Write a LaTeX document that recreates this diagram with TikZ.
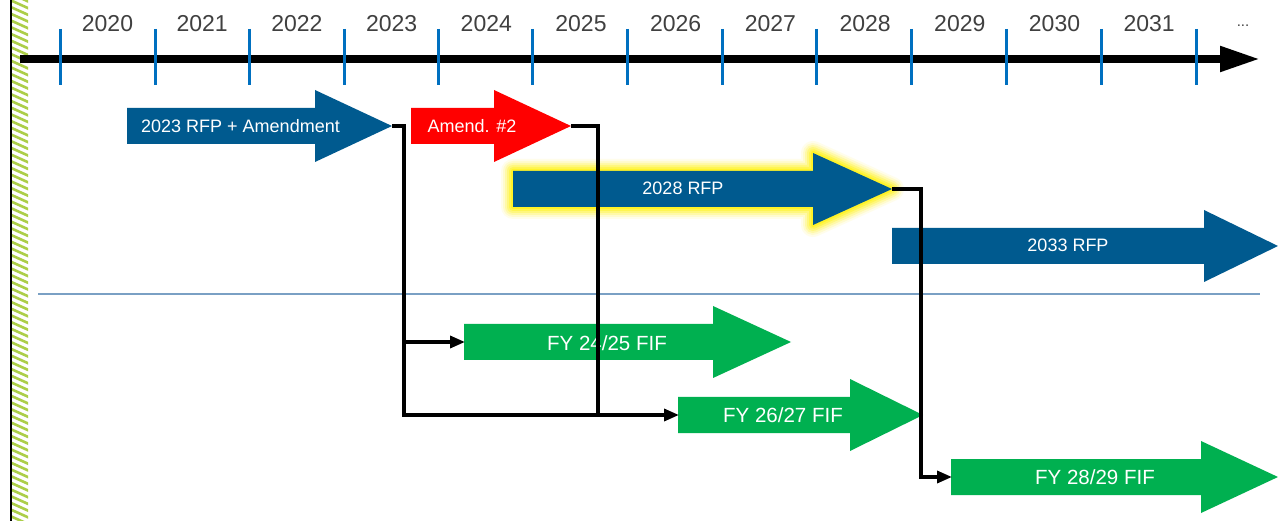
\documentclass[tikz,border=0pt]{standalone}
\usepackage{fontspec}
\setmainfont{Liberation Sans}
\usetikzlibrary{arrows.meta}
\definecolor{rfpblue}{RGB}{0,90,143}
\definecolor{amdred}{RGB}{255,0,0}
\definecolor{fifgreen}{RGB}{0,176,80}
\definecolor{tickblue}{RGB}{0,112,192}
\definecolor{yeargray}{RGB}{64,64,64}
\definecolor{sepblue}{RGB}{122,160,196}
\definecolor{hatchgreen}{RGB}{172,206,72}
\newcommand\blockarrow[8]{% name, color, xleft, xheadbase, xtip, ycenter, halfbody, halfhead
  \fill[#2] (#3,{#6-#7}) -- (#4,{#6-#7}) -- (#4,{#6-#8}) -- (#5,#6) -- (#4,{#6+#8}) -- (#4,{#6+#7}) -- (#3,{#6+#7}) -- cycle;
  \coordinate (#1-tip) at (#5,#6);
  \coordinate (#1-in) at (#3,#6);
}
\tikzset{
  year/.style={text=yeargray, font=\fontsize{23}{26}\selectfont, inner sep=0pt},
  toplabel/.style={text=white, font=\fontsize{18}{20}\selectfont, inner sep=0pt},
  fiflabel/.style={text=white, font=\fontsize{20.5}{23}\selectfont, inner sep=0pt},
  tick/.style={draw=tickblue, line width=3pt},
  conn/.style={draw=black, line width=3.4pt, line join=miter},
  connarrow/.style={conn, -{Triangle[length=15pt,width=12pt]}, shorten >=-1pt},
}
\begin{document}
\begin{tikzpicture}[x=1pt,y=-1pt]
\useasboundingbox (0,0) rectangle (1278,521);
\fill[white] (0,0) rectangle (1278,521);
% left border with hatching
\begin{scope}
  \clip (12,0) rectangle (28,521);
  \foreach \k in {-4,...,80} {
    \draw[hatchgreen, line width=2.6pt] (10,{\k*6.7}) -- (30,{\k*6.7+9});
  }
\end{scope}
\draw[black, line width=2.2pt] (11,0) -- (11,521);
% timeline
\coordinate (tl-start) at (20,59);
\coordinate (tl-end) at (1260,59);
\draw[line width=8pt, -{Triangle[length=40pt,width=24pt]}] (tl-start) -- (tl-end);
\foreach \x in {60,155,249,344,438,532,627,722,816,911,1006,1101,1196} {
  \draw[tick] (\x,29) -- (\x,85);
}
\foreach \y [count=\i from 0] in {2020,2021,2022,2023,2024,2025,2026,2027,2028,2029,2030,2031} {
  \node[year] (y\y) at ({107.5+94.7*\i},24) {\y};
}
\node[text=yeargray, font=\fontsize{15}{16}\selectfont, inner sep=0pt] (dots) at (1243,26) {...};
% separator
\draw[sepblue, line width=1.5pt] (38,294) -- (1260,294);
% glow for 2028 RFP
\foreach \w/\o in {24/0.08,20/0.12,16/0.18,12/0.25,8/0.35,4/0.5} {
  \draw[yellow, line width=\w pt, opacity=\o, line join=round]
    (513,171) -- (813,171) -- (813,153) -- (892,189) -- (813,225) -- (813,207) -- (513,207) -- cycle;
}
% block arrows
\blockarrow{rfp23}{rfpblue}{127}{315}{392}{126}{18}{36}
\blockarrow{amd2}{amdred}{411}{494}{571}{126}{18}{36}
\blockarrow{rfp28}{rfpblue}{513}{813}{892}{189}{18}{36}
\blockarrow{rfp33}{rfpblue}{892}{1204}{1278}{246}{18}{36}
\blockarrow{fif2425}{fifgreen}{464}{713}{791}{342}{18}{36}
\blockarrow{fif2627}{fifgreen}{678}{850}{923}{415}{18}{36}
\blockarrow{fif2829}{fifgreen}{951}{1201}{1278}{477}{18}{36}
% labels
\node[toplabel] (t-rfp23) at (240.5,126) {2023 RFP + Amendment};
\node[toplabel] (t-amd2) at (472,126) {Amend. \#2};
\node[toplabel] (t-rfp28) at (683,188) {2028 RFP};
\node[toplabel] (t-rfp33) at (1068,245) {2033 RFP};
\node[fiflabel] (t-fif2425) at (607,343) {FY 24/25 FIF};
\node[fiflabel] (t-fif2627) at (783,415) {FY 26/27 FIF};
\node[fiflabel] (t-fif2829) at (1095,477) {FY 28/29 FIF};
% connectors
\coordinate (j1) at (404,342);
\coordinate (j2) at (598,415);
\draw[conn] (rfp23-tip) -| (j1);
\draw[connarrow] (j1) -- (fif2425-in);
\draw[connarrow] (j1) |- (fif2627-in);
\draw[conn] (amd2-tip) -| (j2);
\draw[connarrow] (rfp28-tip) -- (921,189) |- (fif2829-in);
\end{tikzpicture}
\end{document}
